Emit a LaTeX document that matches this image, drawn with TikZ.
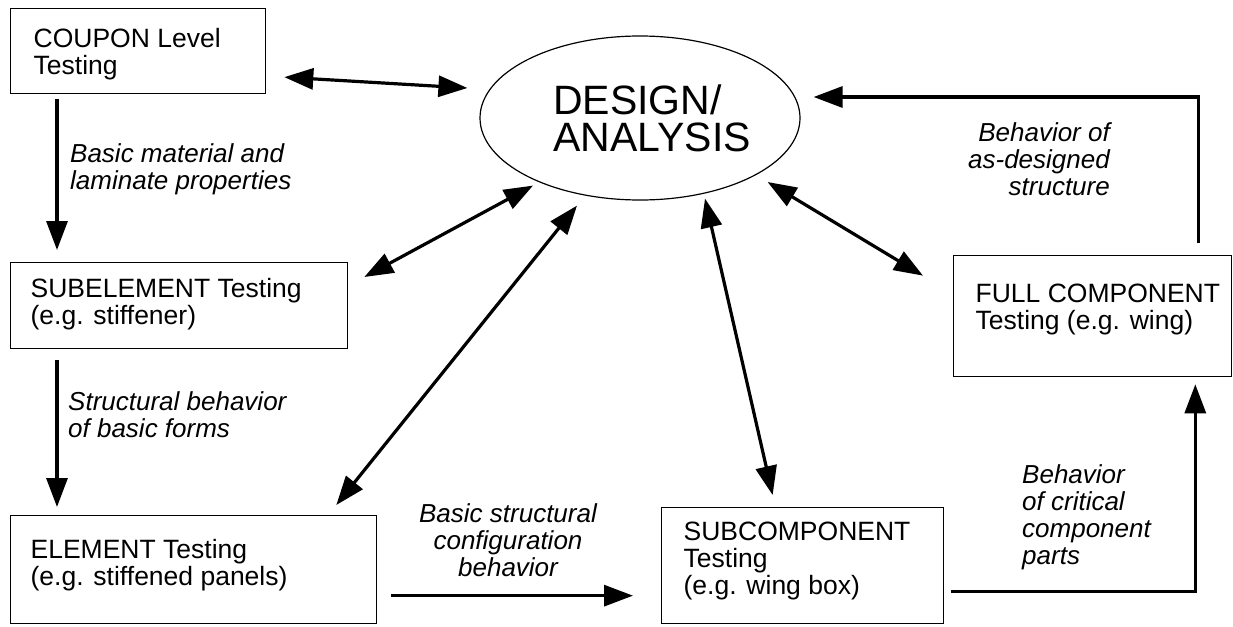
\documentclass[tikz,border=0pt]{standalone}
\usepackage{fontspec}
\setmainfont{Liberation Sans}
\usetikzlibrary{arrows.meta,shapes.geometric}

% box contents: #1 width, #2 height, #3 first baseline below top edge, #4 left indent, #5 text
\newcommand{\panelbox}[5]{\parbox[c][#2pt][t]{#1pt}{\raggedright\leftskip=#4pt\relax\rule{0pt}{#3pt}#5}}

\begin{document}
\begin{tikzpicture}[x=1pt,y=-1pt,
  panel/.style={draw, line width=1.3pt, inner sep=0pt, anchor=north west,
                font=\fontsize{26.5}{27}\selectfont},
  remark/.style={inner sep=0pt, font=\fontsize{26}{27}\selectfont\itshape},
  oneway/.style={line width=3.2pt, -{Triangle[length=29pt,width=21pt]}},
  twoway/.style={line width=3.2pt,
                 {Triangle[length=29pt,width=21pt]}-{Triangle[length=29pt,width=21pt]}},
]
\useasboundingbox (0,0) rectangle (1233,626);

% central design/analysis hub
\node[draw, ellipse, line width=1.2pt, minimum width=320pt, minimum height=164pt,
      inner sep=0pt, align=left, font=\fontsize{41}{37}\selectfont]
      (design) at (640,118) {\hspace*{24pt}DESIGN/\\\hspace*{24pt}ANALYSIS};

% test levels
\node[panel] (coupon)  at (10,8)    {\panelbox{255}{85}{39}{23}{COUPON Level\\Testing}};
\node[panel] (subel)   at (10,262)  {\panelbox{337}{86}{35}{20}{SUBELEMENT Testing\\(e.g. stiffener)}};
\node[panel] (elem)    at (10,515)  {\panelbox{366}{108}{43}{20}{ELEMENT Testing\\(e.g. stiffened panels)}};
\node[panel] (subcomp) at (661,507) {\panelbox{282}{116}{33}{22}{SUBCOMPONENT\\Testing\\(e.g. wing box)}};
\node[panel] (full)    at (953,255) {\panelbox{278}{121}{47}{22}{FULL COMPONENT\\Testing (e.g. wing)}};

% flow labels
\node[remark, anchor=north west, align=left] (lbasic) at (70,142)
  {\rule{0pt}{20pt}Basic material and\\laminate properties};
\node[remark, anchor=north west, align=left] (lstruct) at (68,390)
  {\rule{0pt}{20pt}Structural behavior\\of basic forms};
\node[remark, anchor=north, align=center] (lconfig) at (508,502)
  {\rule{0pt}{20pt}Basic structural\\configuration\\behavior};
\node[remark, anchor=north west, align=left] (lcrit) at (1022,463)
  {\rule{0pt}{20pt}Behavior\\of critical\\component\\parts};
\node[remark, anchor=north east, align=right] (ldesigned) at (1110,121)
  {\rule{0pt}{20pt}Behavior of\\as-designed\\structure};

% building-block progression
\draw[oneway] ([shift={(47,5)}]coupon.south west) -- ([shift={(47,-12)}]subel.north west);
\draw[oneway] ([shift={(47,11)}]subel.south west) -- ([shift={(47,-8)}]elem.north west);
\draw[oneway] ([shift={(14,26)}]elem.east) -- ([shift={(-28,30)}]subcomp.west);
\draw[oneway] ([shift={(7,26)}]subcomp.east) -| ([shift={(-37,7)}]full.south east);
\draw[oneway] ([shift={(-34,-12)}]full.north east) |- ([shift={(13,-21)}]design.east);

% exchanges with design/analysis
\draw[twoway] ([shift={(18,26)}]coupon.east) -- ([shift={(-12,-30)}]design.west);
\draw[twoway] ([shift={(16,15)}]subel.north east) -- ([shift={(-107,-15)}]design.south);
\draw[twoway] ([shift={(-41,-10)}]elem.north east) -- ([shift={(-63,5)}]design.south);
\draw[twoway] ([shift={(65,-2)}]design.south) -- ([shift={(-30,-12)}]subcomp.north);
\draw[twoway] ([shift={(-33,64)}]design.east) -- ([shift={(-30,-40.5)}]full.west);
\end{tikzpicture}
\end{document}
